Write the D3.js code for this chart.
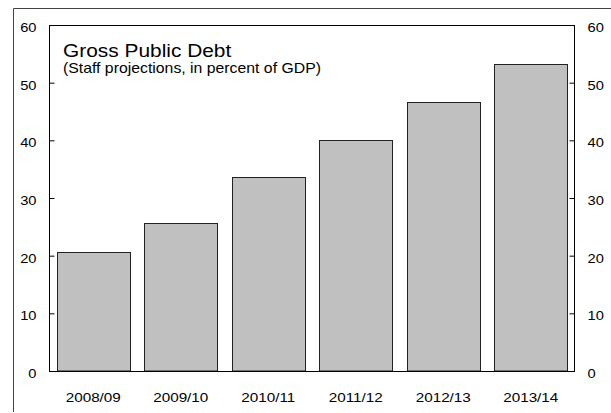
<!DOCTYPE html>
<html>
<head>
<meta charset="utf-8">
<script src="https://cdn.jsdelivr.net/npm/d3@7"></script>
<style>
  body { margin: 0; background: #fff; }
  svg { display: block; font-family: "Liberation Sans", Arial, sans-serif; }
  .axis text { font-size: 13px; fill: #000; }
  .axis line { stroke: #000; }
  .axis path { display: none; }
</style>
</head>
<body>
<div id="chart"></div>
<script>
var width = 611;
var height = 413;
var stretch = 1.13; // text in the original is a bit wider than plain Arial

// data
var years = ["2008/09", "2009/10", "2010/11", "2011/12", "2012/13", "2013/14"];
var debt = [20.6, 25.6, 33.6, 40.0, 46.6, 53.3];
var yTicks = [0, 10, 20, 30, 40, 50, 60];

// plot box (window.top is taken, so own names)
var plotLeft = 49.5, plotRight = 574.5, plotTop = 25, plotBottom = 371;

var svg = d3.select("#chart")
            .append("svg")
            .attr("width", width)
            .attr("height", height);

// outer frame (left + top only)
svg.append("path")
   .attr("d", "M13.5,412 V8.5 H611")
   .attr("fill", "none")
   .attr("stroke", "#444")
   .attr("stroke-width", 1);

var xScale = d3.scaleBand()
               .domain(years)
               .range([plotLeft, plotRight])
               .paddingInner(0.164)
               .paddingOuter(0.082);

var yScale = d3.scaleLinear()
               .domain([0, 60])
               .range([plotBottom, plotTop]);

// bars
svg.selectAll("rect.bar")
   .data(debt)
   .enter()
   .append("rect")
   .attr("class", "bar")
   .attr("x", function(d, i){ return Math.round(xScale(years[i])) + 0.5; })
   .attr("y", function(d){ return Math.round(yScale(d)) + 0.5; })
   .attr("width", Math.round(xScale.bandwidth()))
   .attr("height", function(d){ return plotBottom - Math.round(yScale(d)) - 0.5; })
   .attr("fill", "#c0c0c0")
   .attr("stroke", "#222")
   .attr("stroke-width", 1);

// axes
var yAxisL = d3.axisLeft(yScale).tickValues(yTicks).tickSize(-5);
var yAxisR = d3.axisRight(yScale).tickValues(yTicks).tickSize(-5);

svg.append("g")
   .attr("class", "axis")
   .attr("transform", "translate(" + plotLeft + ",0)")
   .call(yAxisL)
   .selectAll("text")
   .attr("x", 0)
   .attr("dy", "0.5em")
   .attr("transform", "translate(-13,0) scale(" + stretch + ",1)");

svg.append("g")
   .attr("class", "axis")
   .attr("transform", "translate(" + plotRight + ",0)")
   .call(yAxisR)
   .selectAll("text")
   .attr("x", 0)
   .attr("dy", "0.5em")
   .attr("transform", "translate(13,0) scale(" + stretch + ",1)");

// category labels
svg.selectAll("text.cat")
   .data(years)
   .enter()
   .append("text")
   .attr("class", "cat")
   .attr("transform", function(d){
       return "translate(" + (xScale(d) + xScale.bandwidth() / 2) + ",402) scale(" + stretch + ",1)";
   })
   .attr("text-anchor", "middle")
   .attr("font-size", "13.5px")
   .text(function(d){ return d; });

// plot frame
svg.append("rect")
   .attr("x", plotLeft)
   .attr("y", plotTop + 0.5)
   .attr("width", plotRight - plotLeft)
   .attr("height", plotBottom - plotTop)
   .attr("fill", "none")
   .attr("stroke", "#000")
   .attr("stroke-width", 1);

// titles
svg.append("text")
   .attr("transform", "translate(63,57) scale(" + stretch + ",1)")
   .attr("font-size", "18.5px")
   .text("Gross Public Debt");

svg.append("text")
   .attr("transform", "translate(63,72.5) scale(" + stretch + ",1)")
   .attr("font-size", "14px")
   .text("(Staff projections, in percent of GDP)");
</script>
</body>
</html>
